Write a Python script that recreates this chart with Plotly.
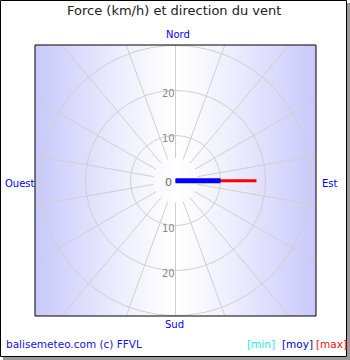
import numpy as np
import plotly.graph_objects as go

# ---------------- data ----------------
title_text = "Force (km/h) et direction du vent"
compass_labels = ["Nord", "Est", "Sud", "Ouest"]
ring_values = [10, 20, 30]
tick_labels = ["10", "20"]
spoke_angles = list(range(0, 360, 20))   # degrees clockwise from north
wind_direction = 90                       # degrees clockwise from north (Est)
wind_min = 0
wind_moy = 10
wind_max = 18
legend_labels = ["[min]", "[moy]", "[max]"]
legend_colors = ["#11EEEE", "#0000CC", "#EE1111"]
credit_text = "balisemeteo.com (c) FFVL"

# ---------------- geometry ----------------
W, H = 350, 360
PL, PR, PT, PB = 35, 316, 45, 316          # plot area in pixels
S = 4.5                                     # pixels per km/h
XR = (PR - PL) / 2 / S
YR = (PB - PT) / 2 / S
FONT = "DejaVu Sans"
GRID = "#CFCFCF"


def px(x):
    return (x - PL) / (PR - PL)


def py(y):
    return (PB - y) / (PB - PT)


def polar_xy(r, ang_deg):
    a = np.deg2rad(ang_deg)
    return r * np.sin(a), r * np.cos(a)


fig = go.Figure()

# background: horizontal gradient (white in the middle, lavender at the sides)
gx = np.linspace(-XR, XR, 141)
gz = np.abs(gx) / XR
fig.add_trace(go.Heatmap(
    x=gx, y=[-YR - 1, YR + 1], z=[gz, gz], zmin=0, zmax=1,
    colorscale=[[0, "#FFFFFF"], [0.33, "#F1F1FE"], [0.66, "#DDDDFD"],
                [1, "#C8C8FC"]],
    zsmooth="best", showscale=False, hoverinfo="skip"))

# rings
th = np.linspace(0, 360, 361)
for r in ring_values:
    x, y = polar_xy(r, th)
    fig.add_trace(go.Scatter(x=x, y=y, mode="lines",
                             line=dict(color=GRID, width=1),
                             hoverinfo="skip", showlegend=False))

# spokes
r0, r1 = 5, 60
for a in spoke_angles:
    x, y = polar_xy(np.array([r0, r1]), a)
    fig.add_trace(go.Scatter(x=x, y=y, mode="lines",
                             line=dict(color=GRID, width=1),
                             hoverinfo="skip", showlegend=False))

# wind bars: max (red), moy (blue), min (cyan)
for val, col, w in [(wind_max, "#FF0000", 3), (wind_moy, "#0000FF", 5),
                    (wind_min, "#00FFFF", 3)]:
    x, y = polar_xy(np.array([0, val]), wind_direction)
    fig.add_trace(go.Scatter(x=x, y=y - 0.07, mode="lines",
                             line=dict(color=col, width=w),
                             hoverinfo="skip", showlegend=False))

ann = []
# radial tick labels (north and south)
for r, t in zip(ring_values[:2], tick_labels):
    for sgn in (1, -1):
        ann.append(dict(x=0, y=sgn * r, xref="x", yref="y", text=t,
                        showarrow=False, xanchor="right", yanchor="middle",
                        xshift=0, yshift=-2.5, borderpad=0,
                        font=dict(family=FONT, size=10, color="#8A8A8A")))
ann.append(dict(x=0, y=0, xref="x", yref="y", text="0", showarrow=False,
                xanchor="right", yanchor="middle", xshift=-3, yshift=-1.5,
                borderpad=0, font=dict(family=FONT, size=11, color="#666666")))

# compass labels
comp_pos = {"Nord": (177.5, 34, "center"), "Est": (321, 183, "left"),
            "Sud": (174.7, 324, "center"), "Ouest": (4.3, 183, "left")}
for lab in compass_labels:
    x, y, anc = comp_pos[lab]
    ann.append(dict(x=px(x), y=py(y), xref="paper", yref="paper", text=lab,
                    showarrow=False, xanchor=anc, yanchor="middle",
                    borderpad=0, font=dict(family=FONT, size=10, color="#0000FF")))

# title
ann.append(dict(x=px(173.5), y=py(11), xref="paper", yref="paper",
                text=title_text, showarrow=False, xanchor="center",
                yanchor="middle", borderpad=0,
                font=dict(family=FONT, size=13, color="#222222")))

# footer
ann.append(dict(x=px(5), y=py(344), xref="paper", yref="paper",
                text=credit_text, showarrow=False, xanchor="left",
                yanchor="middle", borderpad=0,
                font=dict(family=FONT, size=10.5, color="#1515DD")))
for lab, col, x in zip(legend_labels, legend_colors, [245.7, 281, 315]):
    ann.append(dict(x=px(x), y=py(344), xref="paper", yref="paper",
                    text=lab, showarrow=False, xanchor="left",
                    yanchor="middle", borderpad=0,
                    font=dict(family=FONT, size=10.5, color=col)))

shapes = [
    # plot border
    dict(type="rect", xref="paper", yref="paper", x0=0, x1=1, y0=0, y1=1,
         line=dict(color="black", width=1), fillcolor="rgba(0,0,0,0)"),
    # drop shadow of outer frame
    dict(type="rect", xref="paper", yref="paper",
         x0=px(347), x1=px(350), y0=py(360), y1=py(3),
         line=dict(width=0), fillcolor="#9A9A9A"),
    dict(type="rect", xref="paper", yref="paper",
         x0=px(3), x1=px(350), y0=py(360), y1=py(357),
         line=dict(width=0), fillcolor="#9A9A9A"),
    # outer frame
    dict(type="rect", xref="paper", yref="paper",
         x0=px(0.5), x1=px(346.5), y0=py(356.5), y1=py(0.5),
         line=dict(color="black", width=1), fillcolor="rgba(0,0,0,0)"),
]

fig.update_layout(
    width=W, height=H,
    margin=dict(l=PL, r=W - PR, t=PT, b=H - PB, pad=0),
    paper_bgcolor="white", plot_bgcolor="white",
    xaxis=dict(range=[-XR, XR], visible=False, fixedrange=True),
    yaxis=dict(range=[-YR, YR], visible=False, fixedrange=True),
    annotations=ann, shapes=shapes, showlegend=False,
)

fig.write_html("out.html", config={"displayModeBar": False})
